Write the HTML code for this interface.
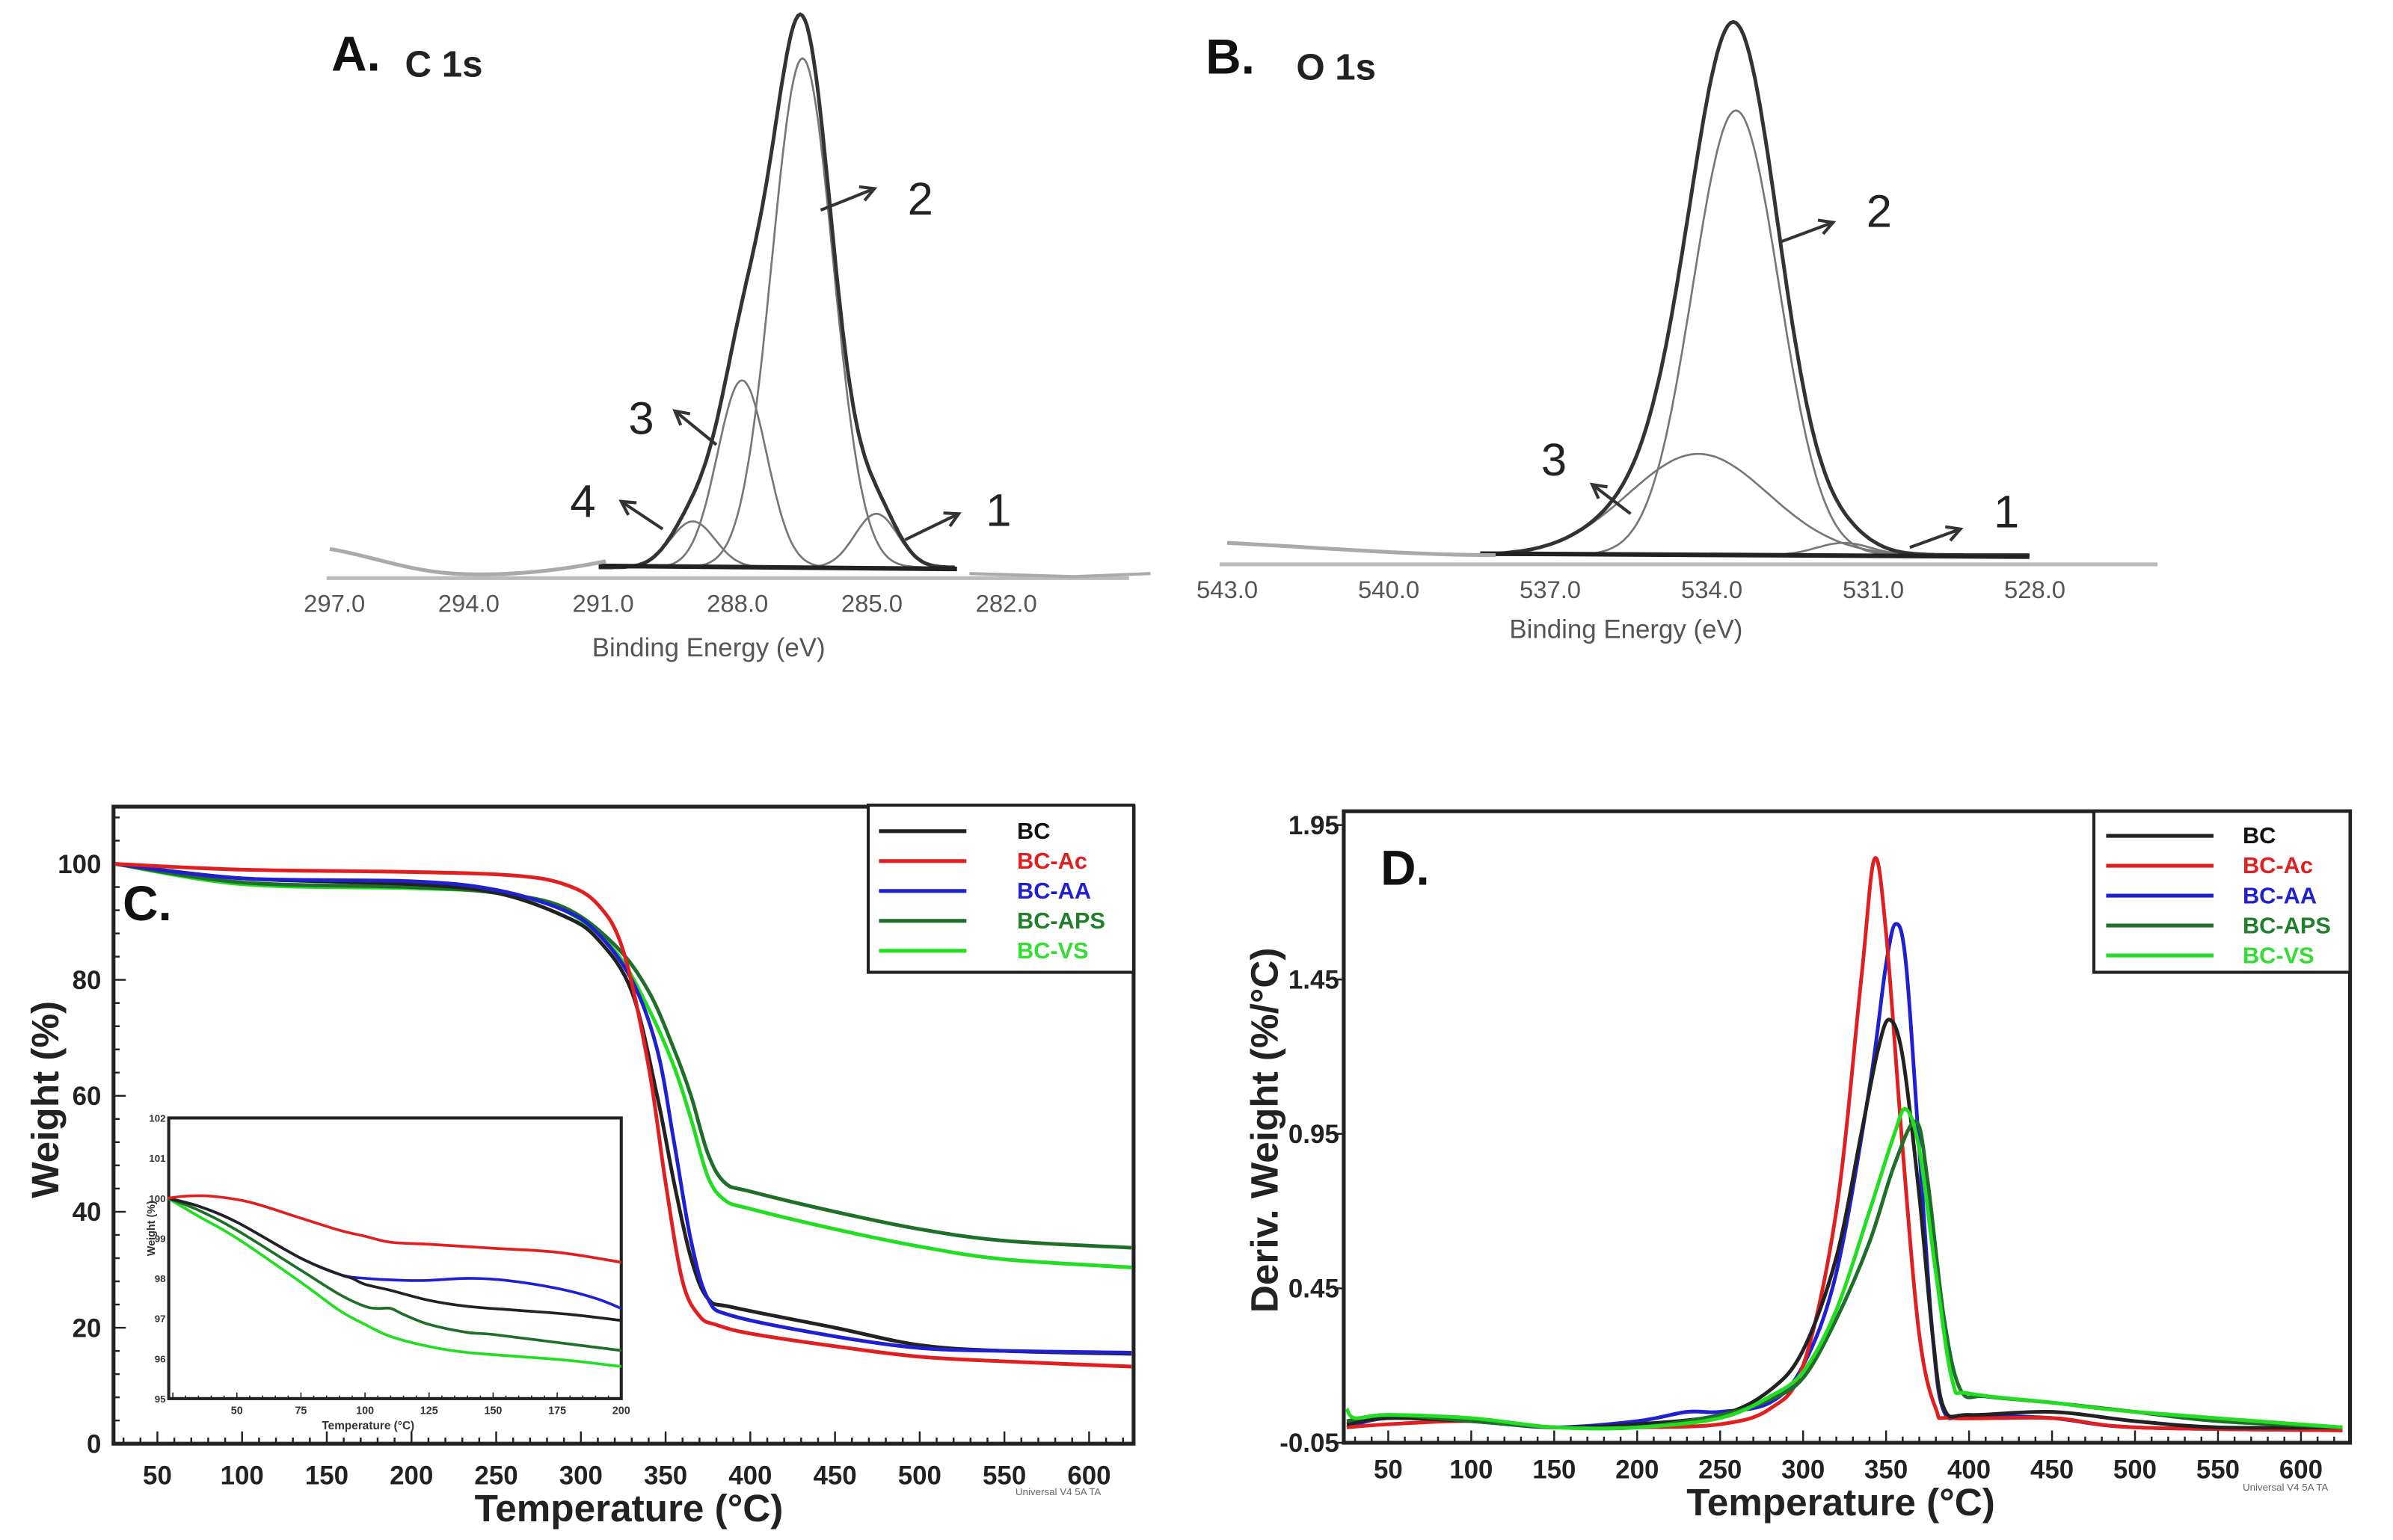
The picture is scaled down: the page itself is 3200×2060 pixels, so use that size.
<!DOCTYPE html>
<html><head><meta charset="utf-8">
<style>
html,body{margin:0;padding:0;background:#fff;}
svg{display:block;}
text{font-family:"Liberation Sans",sans-serif;}
</style></head>
<body>
<svg id="fig" xmlns="http://www.w3.org/2000/svg" width="3200" height="2060" viewBox="0 0 1560 1004.2" preserveAspectRatio="none">
<g id="pA"></g>
<g id="pB"></g>
<g id="pC"></g>
<g id="pD"></g>
</svg>
<script>
// ---------- data ----------
const seriesNames = ["BC","BC-Ac","BC-AA","BC-APS","BC-VS"];
const seriesColors = ["#222","#e02020","#2020d0","#1f6f2a","#22dd22"];
const labelColors = ["#111","#e02020","#2020d0","#1f7f2a","#33dd33"];
// TGA main (temp, weight%)
const tgaBC  = [[25,100],[100,97.5],[200,96.5],[250,95],[290,91],[310,87],[330,78],[345,60],[355,45],[365,32],[375,25],[390,23.5],[450,20],[500,17],[550,16],[625,15.5]];
const tgaAc  = [[25,100],[100,99],[200,98.6],[260,98],[290,96.5],[310,93],[325,85],[340,65],[350,45],[360,28],[370,22],[380,20.5],[400,19],[450,16.8],[500,15],[550,14.2],[625,13.3]];
const tgaAA  = [[25,100],[100,97.5],[200,97],[250,95.5],[290,92],[310,88],[330,80],[345,68],[355,52],[365,35],[375,25],[390,22],[450,18.5],[500,16.5],[550,16],[625,15.7]];
const tgaAPS = [[25,100],[100,96.8],[200,96],[250,95],[290,92.5],[320,86],[340,78],[355,68],[365,60],[375,50],[385,45],[400,43.5],[450,40],[500,37],[550,35],[625,33.8]];
const tgaVS  = [[25,100],[100,96.5],[200,95.8],[250,95],[290,92],[320,85],[340,75],[355,65],[365,56],[375,46],[385,42],[400,40.5],[450,37],[500,34],[550,31.8],[625,30.4]];
// inset
const insBC  = [[23,100],[35,99.8],[50,99.4],[75,98.5],[90,98.1],[95,98.0],[100,97.85],[110,97.7],[125,97.45],[140,97.3],[160,97.2],[180,97.1],[200,96.95]];
const insAc  = [[23,100],[30,100.05],[40,100.05],[55,99.9],[75,99.5],[90,99.2],[100,99.05],[110,98.9],[125,98.85],[150,98.75],[175,98.65],[200,98.4]];
const insAA  = [[23,100],[35,99.8],[50,99.4],[75,98.5],[90,98.1],[100,98.0],[115,97.95],[125,97.95],[140,98.0],[155,97.95],[175,97.75],[190,97.5],[200,97.25]];
const insAPS = [[23,100],[35,99.7],[50,99.2],[75,98.2],[90,97.6],[100,97.3],[105,97.25],[110,97.25],[115,97.1],[125,96.85],[140,96.65],[150,96.6],[175,96.4],[200,96.2]];
const insVS  = [[23,100],[35,99.55],[50,99.0],[75,97.9],[90,97.2],[100,96.85],[110,96.55],[125,96.3],[140,96.15],[160,96.05],[180,95.95],[200,95.8]];
// DTG
const dtgBC  = [[25,0.01],[50,0.03],[100,0.02],[150,0.0],[200,0.01],[250,0.04],[280,0.12],[300,0.25],[320,0.55],[335,0.95],[345,1.22],[352,1.32],[360,1.2],[370,0.75],[378,0.3],[385,0.06],[400,0.04],[450,0.05],[500,0.02],[550,0.0],[625,0.0]];
const dtgAc  = [[25,0.0],[50,0.01],[100,0.02],[150,0.0],[200,0.0],[250,0.01],[280,0.06],[300,0.2],[320,0.7],[335,1.45],[343,1.84],[350,1.6],[360,0.9],[370,0.3],[380,0.06],[390,0.03],[450,0.03],[500,0.0],[625,-0.01]];
const dtgAA  = [[25,0.0],[50,0.03],[100,0.02],[150,0.0],[200,0.02],[230,0.05],[250,0.05],[280,0.08],[300,0.2],[320,0.5],[340,1.1],[350,1.5],[356,1.63],[362,1.5],[370,0.9],[378,0.3],[385,0.05],[400,0.04],[450,0.03],[500,0.0],[625,-0.01]];
const dtgAPS = [[25,0.02],[50,0.04],[100,0.02],[150,0.0],[200,0.0],[250,0.04],[280,0.09],[300,0.16],[320,0.35],[340,0.6],[355,0.85],[368,0.99],[375,0.8],[385,0.35],[395,0.12],[410,0.1],[450,0.08],[500,0.05],[550,0.02],[625,0.0]];
const dtgVS  = [[25,0.06],[30,0.03],[50,0.04],[100,0.03],[150,0.0],[200,0.0],[250,0.03],[280,0.1],[300,0.18],[320,0.38],[340,0.7],[355,0.95],[362,1.03],[370,0.9],[380,0.5],[390,0.15],[400,0.11],[450,0.08],[500,0.05],[625,0.0]];
// XPS peaks: [center eV, amplitude, sigma eV]
const c1sPeaks = [[284.9,35,0.48],[286.55,332,0.68],[287.9,122,0.55],[289.0,30,0.5]];
const c1sEnvExtra = [[286.65,22,0.6]];
const o1sPeaks = [[531.55,8,0.5],[533.55,290,0.8],[534.25,66,1.3]];
const o1sEnvExtra = [];
const c1sTicks = [297,294,291,288,285,282];
const o1sTicks = [543,540,537,534,531,528];
const tgaXTicks = [50,100,150,200,250,300,350,400,450,500,550,600];
const tgaYTicks = [0,20,40,60,80,100];
const insXTicks = [50,75,100,125,150,175,200];
const insYTicks = [95,96,97,98,99,100,101,102];
const dtgYTicks = [-0.05,0.45,0.95,1.45,1.95];

const NS="http://www.w3.org/2000/svg";
function mk(parent,tag,attrs,text){const e=document.createElementNS(NS,tag);for(const k in attrs)e.setAttribute(k,attrs[k]);if(text!==undefined)e.textContent=text;parent.appendChild(e);return e;}
function lin(d0,d1,r0,r1){return v=>r0+(v-d0)*(r1-r0)/(d1-d0);}
function smooth(pts){let d="M"+pts[0][0].toFixed(2)+","+pts[0][1].toFixed(2);
 for(let i=0;i<pts.length-1;i++){const p0=pts[Math.max(0,i-1)],p1=pts[i],p2=pts[i+1],p3=pts[Math.min(pts.length-1,i+2)];
 const c1=[p1[0]+(p2[0]-p0[0])/6,p1[1]+(p2[1]-p0[1])/6],c2=[p2[0]-(p3[0]-p1[0])/6,p2[1]-(p3[1]-p1[1])/6];
 d+=" C"+c1[0].toFixed(2)+","+c1[1].toFixed(2)+" "+c2[0].toFixed(2)+","+c2[1].toFixed(2)+" "+p2[0].toFixed(2)+","+p2[1].toFixed(2);}return d;}

// ---------- XPS panels ----------
function xps(g,peaks,extra,ticks,x0px,pxPerEv,e0,baseY,eMin,eMax,axisY,tickLabY,titleX,titleY){
 const X=e=>x0px+(e0-e)*pxPerEv;
 const gauss=(p,e)=>p[1]*Math.exp(-((e-p[0])**2)/(2*p[2]*p[2]));
 const axis=mk(g,"line",{x1:X(ticks[0])-5,x2:X(ticks[ticks.length-1])+80,y1:axisY,y2:axisY,stroke:"#bbb","stroke-width":2.5});
 
 ticks.forEach(t=>{const tl=mk(g,"text",{x:X(t),y:tickLabY,"text-anchor":"middle","font-size":16,fill:"#555"},t.toFixed(1));
  });
 const tt=mk(g,"text",{x:titleX,y:titleY,"text-anchor":"middle","font-size":17,fill:"#555"},"Binding Energy (eV)");
 
 peaks.forEach((p,i)=>{const pts=[];for(let e=eMax;e>=eMin;e-=0.05)pts.push([X(e),baseY-gauss(p,e)]);
  const pa=mk(g,"path",{d:"M"+pts.map(q=>q[0].toFixed(1)+","+q[1].toFixed(1)).join(" L"),fill:"none",stroke:"#777","stroke-width":1.3});
  });
 const env=[];for(let e=eMax;e>=eMin;e-=0.05){let s=0;peaks.concat(extra).forEach(p=>s+=gauss(p,e));env.push([X(e),baseY-s]);}
 const ep=mk(g,"path",{d:"M"+env.map(q=>q[0].toFixed(1)+","+q[1].toFixed(1)).join(" L"),fill:"none",stroke:"#333","stroke-width":2.4});
 
 const bl=mk(g,"line",{x1:X(eMax),x2:X(eMin),y1:baseY-1,y2:baseY+1,stroke:"#222","stroke-width":3});
 
 return X;
}
const gA=document.getElementById('pA');
xps(gA,c1sPeaks,c1sEnvExtra,c1sTicks,218,29.2,297,370,283.1,291.1,377,399,462,428);
mk(gA,"path",{d:"M215,358 C240,362 265,372 295,374 C330,376 365,372 395,366",fill:"none",stroke:"#aaa","stroke-width":2.5});
mk(gA,"path",{d:"M632,374 L700,376 L750,374",fill:"none",stroke:"#aaa","stroke-width":2});
mk(gA,"text",{x:216,y:46,"font-size":32,"font-weight":"bold","font-family":"Liberation Serif, serif",fill:"#111"},"A.");
mk(gA,"text",{x:264,y:50,"font-size":24,"font-weight":"bold",fill:"#222"},"C 1s");
const gB=document.getElementById('pB');
xps(gB,o1sPeaks,o1sEnvExtra,o1sTicks,800,35.1,543,362,528.1,538.3,368,390,1060,416);
mk(gB,"path",{d:"M800,354 C860,357 920,362 975,362",fill:"none",stroke:"#aaa","stroke-width":2.5});
mk(gB,"text",{x:786,y:48,"font-size":32,"font-weight":"bold","font-family":"Liberation Serif, serif",fill:"#111"},"B.");
mk(gB,"text",{x:845,y:52,"font-size":24,"font-weight":"bold",fill:"#222"},"O 1s");
const ann=[[gA,"2",600,140,535,137,570,123],[gA,"3",418,283,467,290,440,268],[gA,"4",380,337,432,345,405,327],[gA,"1",651,343,590,352,625,335],
 [gB,"2",1225,148,1160,158,1195,145],[gB,"3",1013,310,1063,335,1038,316],[gB,"1",1308,344,1245,357,1278,345]];
ann.forEach(a=>{const t=mk(a[0],"text",{x:a[2],y:a[3],"text-anchor":"middle","font-size":30,fill:"#222"},a[1]);
 
 const l=mk(a[0],"line",{x1:a[4],y1:a[5],x2:a[6],y2:a[7],stroke:"#333","stroke-width":2});
 
 const ang=Math.atan2(a[7]-a[5],a[6]-a[4]),s=10;
 const hp=mk(a[0],"path",{d:`M${a[6]-s*Math.cos(ang-0.5)},${a[7]-s*Math.sin(ang-0.5)} L${a[6]},${a[7]} L${a[6]-s*Math.cos(ang+0.5)},${a[7]-s*Math.sin(ang+0.5)}`,fill:"none",stroke:"#333","stroke-width":2});
 });

// ---------- TGA (C) ----------
const gC=document.getElementById('pC');
const cx=lin(50,600,102.6,710),cy=lin(0,100,941.4,563.3);
const cL=74,cR=739,cT=526,cB=941.4;
function frame(g,L,T,R,B,sw){const r=mk(g,"rect",{x:L,y:T,width:R-L,height:B-T,fill:"none",stroke:"#222","stroke-width":sw});
 }
frame(gC,cL,cT,cR,cB,2.5);
for(let t=30;t<=620;t+=10){const big=t%50===0;mk(gC,"line",{x1:cx(t),x2:cx(t),y1:cB,y2:cB-(big?8:4),stroke:"#222","stroke-width":1.2});}
for(let v=0;v<=108;v+=4){mk(gC,"line",{x1:cL,x2:cL+(v%20===0?8:4),y1:cy(v),y2:cy(v),stroke:"#222","stroke-width":1.2});}
tgaXTicks.forEach(t=>{const e=mk(gC,"text",{x:cx(t),y:968,"text-anchor":"middle","font-size":17,"font-weight":"bold",fill:"#222"},t);
 });
tgaYTicks.forEach(v=>{const e=mk(gC,"text",{x:66,y:cy(v)+6,"text-anchor":"end","font-size":17,"font-weight":"bold",fill:"#222"},v);
 });
mk(gC,"text",{x:410,y:992,"text-anchor":"middle","font-size":25,"font-weight":"bold",fill:"#222"},"Temperature (°C)");
mk(gC,"text",{x:0,y:0,transform:"translate(38,717) rotate(-90)","text-anchor":"middle","font-size":25,"font-weight":"bold",fill:"#222"},"Weight (%)");
mk(gC,"text",{x:662,y:975,"font-size":6.5,fill:"#666"},"Universal V4 5A TA");
mk(gC,"text",{x:80,y:600,"font-size":32,"font-weight":"bold","font-family":"Liberation Serif, serif",fill:"#111"},"C.");
const tgaSets=[tgaBC,tgaAc,tgaAA,tgaAPS,tgaVS];
[4,3,0,2,1].forEach(i=>{const p=mk(gC,"path",{d:smooth(tgaSets[i].map(q=>[cx(q[0]),cy(q[1])])),fill:"none",stroke:seriesColors[i],"stroke-width":2.4});
 });
function legend(g,L,T,R,B,x1,x2,tx,y0,dy){const bx=mk(g,"rect",{x:L,y:T,width:R-L,height:B-T,fill:"#fff",stroke:"#222","stroke-width":2});
 
 seriesNames.forEach((n,i)=>{const y=y0+i*dy;
  const ln=mk(g,"line",{x1:x1,x2:x2,y1:y,y2:y,stroke:seriesColors[i],"stroke-width":2.5});
  
  const t=mk(g,"text",{x:tx,y:y+5,"font-size":15,"font-weight":"bold",fill:labelColors[i]},n);
  });}
legend(gC,566,525,739,634,573,630,663,542,19.5);
// inset
const iL=110,iR=405,iT=729,iB=912;
const ix=lin(50,200,iL+(50-23.4)*(iR-iL)/(200-23.4),iR),iy=lin(95,102,iB,iT);
const ib=mk(gC,"rect",{x:iL,y:iT,width:iR-iL,height:iB-iT,fill:"#fff",stroke:"#222","stroke-width":2});

for(let t=25;t<=200;t+=5)mk(gC,"line",{x1:ix(t),x2:ix(t),y1:iB,y2:iB-(t%25===0?4:2),stroke:"#222","stroke-width":0.8});
insXTicks.forEach(t=>{const e=mk(gC,"text",{x:ix(t),y:iB+10,"text-anchor":"middle","font-size":7,"font-weight":"bold",fill:"#333"},t);
 });
insYTicks.forEach(v=>{const e=mk(gC,"text",{x:iL-2,y:iy(v)+2.5,"text-anchor":"end","font-size":6.5,"font-weight":"bold",fill:"#333"},v);
 });
mk(gC,"text",{x:240,y:iB+20,"text-anchor":"middle","font-size":7.5,"font-weight":"bold",fill:"#333"},"Temperature (°C)");
mk(gC,"text",{x:0,y:0,transform:"translate(101,801) rotate(-90)","text-anchor":"middle","font-size":7,"font-weight":"bold",fill:"#333"},"Weight (%)");
const insSets=[insBC,insAc,insAA,insAPS,insVS];
[4,3,2,0,1].forEach(i=>{const p=mk(gC,"path",{d:smooth(insSets[i].map(q=>[ix(q[0]),iy(q[1])])),fill:"none",stroke:seriesColors[i],"stroke-width":1.8});
 });

// ---------- DTG (D) ----------
const gD=document.getElementById('pD');
const dx=lin(50,600,905,1500),dy=lin(-0.05,1.95,940.8,538);
const dL=876,dR=1532,dT=529,dB=940.8;
frame(gD,dL,dT,dR,dB,2.5);
for(let t=30;t<=620;t+=10){mk(gD,"line",{x1:dx(t),x2:dx(t),y1:dB,y2:dB-(t%50===0?8:4),stroke:"#222","stroke-width":1.2});}
tgaXTicks.forEach(t=>{const e=mk(gD,"text",{x:dx(t),y:964,"text-anchor":"middle","font-size":17,"font-weight":"bold",fill:"#222"},t);
 });
dtgYTicks.forEach(v=>{mk(gD,"line",{x1:dL-5,x2:dL,y1:dy(v),y2:dy(v),stroke:"#222","stroke-width":1.2});
 const e=mk(gD,"text",{x:dL-3,y:dy(v)+6,"text-anchor":"end","font-size":17,"font-weight":"bold",fill:"#222"},v.toFixed(2));
 });
mk(gD,"text",{x:1200,y:988,"text-anchor":"middle","font-size":25,"font-weight":"bold",fill:"#222"},"Temperature (°C)");
mk(gD,"text",{x:0,y:0,transform:"translate(833,737) rotate(-90)","text-anchor":"middle","font-size":25,"font-weight":"bold",fill:"#222"},"Deriv. Weight (%/°C)");
mk(gD,"text",{x:1462,y:972,"font-size":6.5,fill:"#666"},"Universal V4 5A TA");
mk(gD,"text",{x:900,y:577,"font-size":32,"font-weight":"bold","font-family":"Liberation Serif, serif",fill:"#111"},"D.");
const dtgSets=[dtgBC,dtgAc,dtgAA,dtgAPS,dtgVS];
[2,1,0,3,4].forEach(i=>{const p=mk(gD,"path",{d:smooth(dtgSets[i].map(q=>[dx(q[0]),dy(q[1])])),fill:"none",stroke:seriesColors[i],"stroke-width":2.4});
 });
legend(gD,1365,529,1532,634,1373,1443,1462,545,19.5);
</script>
</body></html>
